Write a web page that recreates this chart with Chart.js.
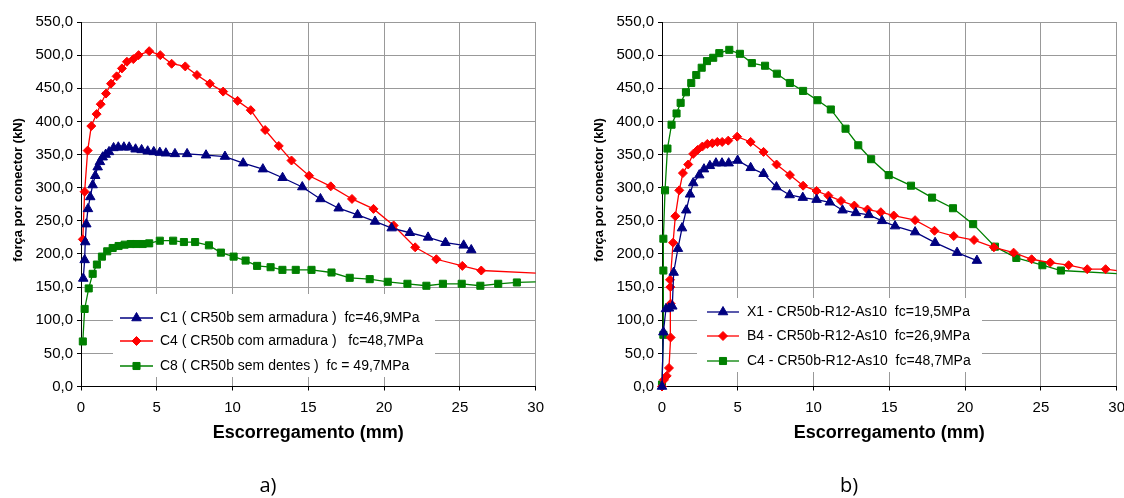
<!DOCTYPE html>
<html>
<head>
<meta charset="utf-8">
<script src="https://cdn.jsdelivr.net/npm/chart.js@4.4.1/dist/chart.umd.min.js"></script>
<style>
  html, body { margin: 0; padding: 0; background: #fff; }
  body { width: 1124px; height: 498px; position: relative; overflow: hidden; }
  canvas { position: absolute; top: 0; }
  #chartA { left: 0; }
  #chartB { left: 581px; }
</style>
</head>
<body>
<canvas id="chartA" width="552" height="498"></canvas>
<canvas id="chartB" width="552" height="498"></canvas>
<script>
// grafico a)
const slipC1 = [0.15, 0.24, 0.28, 0.35, 0.46, 0.61, 0.77, 0.94, 1.1, 1.25, 1.43, 1.63, 1.85, 2.15, 2.46, 2.83, 3.18, 3.6, 4.0, 4.4, 4.8, 5.2, 5.6, 6.2, 7.0, 8.25, 9.5, 10.7, 12.0, 13.3, 14.6, 15.8, 17.0, 18.25, 19.4, 20.5, 21.7, 22.9, 24.05, 25.25, 25.75];
const forceC1 = [163, 191, 218, 245, 268, 286, 304, 318, 331, 339, 346, 350, 354, 360, 361, 361, 361, 358, 357, 355, 354, 353, 352, 351, 351, 349, 347, 337, 328, 315, 301, 283, 269, 259, 249, 239, 232, 225, 217, 213, 206];

const slipC4a = [0.12, 0.24, 0.44, 0.68, 1.03, 1.3, 1.65, 1.98, 2.35, 2.7, 3.03, 3.45, 3.8, 4.5, 5.23, 5.98, 6.88, 7.65, 8.5, 9.38, 10.33, 11.2, 12.15, 13.05, 13.89, 15.05, 16.48, 17.88, 19.3, 20.63, 22.05, 23.45, 25.16, 26.41, 32];
const forceC4a = [222, 294, 356, 393, 411, 426, 442, 457, 468, 480, 490, 494, 500, 506, 500, 487, 483, 470, 457, 445, 431, 417, 387, 363, 341, 318, 302, 283, 268, 243, 210, 192, 182, 175, 169];

const slipC8 = [0.12, 0.24, 0.51, 0.77, 1.05, 1.38, 1.73, 2.09, 2.48, 2.88, 3.28, 3.63, 4.07, 4.5, 5.2, 6.08, 6.79, 7.53, 8.44, 9.23, 10.07, 10.86, 11.62, 12.51, 13.29, 14.17, 15.21, 16.53, 17.73, 19.05, 20.24, 21.54, 22.79, 23.88, 25.12, 26.35, 27.53, 28.76, 32];
const forceC8 = [68, 117, 148, 170, 184, 196, 204, 209, 212, 214, 215, 215, 215, 216, 220, 220, 218, 218, 213, 202, 196, 190, 182, 180, 176, 176, 176, 172, 164, 162, 158, 155, 152, 155, 155, 152, 155, 157, 159];

// grafico b)
const slipX1 = [0, 0.09, 0.26, 0.46, 0.68, 0.77, 1.05, 1.32, 1.6, 1.85, 2.06, 2.46, 2.77, 3.16, 3.56, 3.96, 4.4, 4.99, 5.85, 6.7, 7.55, 8.42, 9.29, 10.2, 11.07, 11.91, 12.79, 13.65, 14.52, 15.38, 16.7, 18.02, 19.47, 20.78];
const forceX1 = [0, 82, 117, 118, 121, 172, 208, 239, 266, 290, 307, 319, 328, 333, 337, 337, 337, 341, 330, 321, 301, 289, 285, 282, 278, 266, 262, 259, 250, 242, 233, 217, 202, 190];

const slipB4 = [0, 0.13, 0.31, 0.46, 0.57, 0.57, 0.55, 0.53, 0.73, 0.88, 1.14, 1.38, 1.73, 2.06, 2.35, 2.66, 2.99, 3.32, 3.65, 3.97, 4.37, 4.96, 5.85, 6.7, 7.56, 8.44, 9.31, 10.2, 10.98, 11.81, 12.69, 13.56, 14.44, 15.29, 16.7, 17.98, 19.25, 20.59, 21.9, 23.2, 24.39, 25.62, 26.83, 28.06, 29.27, 31];
const forceB4 = [0, 10, 16, 28, 74, 125, 150, 161, 217, 257, 296, 322, 335, 351, 357, 362, 366, 367, 369, 369, 371, 377, 369, 354, 335, 319, 303, 295, 288, 280, 273, 267, 263, 258, 251, 235, 227, 221, 210, 202, 192, 187, 183, 177, 177, 172];

const slipC4b = [0, 0.09, 0.09, 0.09, 0.2, 0.36, 0.63, 0.96, 1.23, 1.58, 1.93, 2.26, 2.62, 2.97, 3.38, 3.78, 4.44, 5.14, 5.93, 6.8, 7.58, 8.44, 9.31, 10.26, 11.14, 12.11, 12.95, 13.8, 14.96, 16.43, 17.82, 19.2, 20.53, 21.97, 23.38, 25.1, 26.32, 31];
const forceC4b = [3, 78, 175, 223, 296, 359, 395, 412, 428, 444, 458, 470, 481, 491, 496, 503, 508, 502, 488, 484, 472, 458, 446, 432, 418, 389, 364, 343, 319, 303, 285, 269, 245, 211, 194, 183, 175, 169];

const xMax = 30, xStep = 5;
const yMax = 550, yStep = 50;

Chart.defaults.font.family = '"Liberation Sans", Arial, sans-serif';
Chart.defaults.color = '#000';

const pts = (xs, ys) => xs.map((x, i) => ({ x: x, y: ys[i] }));

const raio = { triangle: 5.5, rectRot: 4.5, rect: 5 };

function serie(label, xs, ys, cor, estilo) {
  return {
    label: label,
    data: pts(xs, ys),
    showLine: true,
    borderColor: cor,
    backgroundColor: cor,
    borderWidth: 1.3,
    pointStyle: estilo,
    pointRadius: raio[estilo],
    pointBorderWidth: 1,
    pointBackgroundColor: cor,
    pointBorderColor: cor,
    clip: { left: 8, top: 0, right: 0, bottom: 8 }
  };
}

// titulo vertical do eixo y
const tituloY = {
  id: 'tituloY',
  afterDraw(chart, args, o) {
    const ctx = chart.ctx;
    ctx.save();
    ctx.translate(o.x, o.y);
    ctx.rotate(-Math.PI / 2);
    ctx.font = 'bold 13px "Liberation Sans", Arial, sans-serif';
    ctx.fillStyle = '#000';
    ctx.textAlign = 'center';
    ctx.textBaseline = 'middle';
    ctx.fillText(o.text, 0, 0);
    ctx.restore();
  }
};

// legenda estilo excel (linha + marcador)
const caixaLegenda = {
  id: 'caixaLegenda',
  afterDatasetsDraw(chart, args, o) {
    const ctx = chart.ctx;
    ctx.save();
    ctx.fillStyle = '#fff';
    ctx.fillRect(o.box[0], o.box[1], o.box[2], o.box[3]);
    ctx.font = '14px "Liberation Sans", Arial, sans-serif';
    ctx.textBaseline = 'middle';
    chart.data.datasets.forEach((ds, i) => {
      const y = o.rows[i];
      ctx.strokeStyle = ds.borderColor;
      ctx.lineWidth = ds.borderWidth;
      ctx.beginPath();
      ctx.moveTo(o.line[0], y);
      ctx.lineTo(o.line[1], y);
      ctx.stroke();
      ctx.fillStyle = ds.borderColor;
      ctx.lineWidth = 1;
      Chart.helpers.drawPoint(ctx, { pointStyle: ds.pointStyle, radius: ds.pointRadius, borderWidth: 1, rotation: 0 }, (o.line[0] + o.line[1]) / 2, y);
      ctx.fillStyle = '#000';
      ctx.fillText(ds.label, o.textX, y);
    });
    ctx.restore();
  }
};

function grafico(id, datasets, letra, legenda) {
  return new Chart(document.getElementById(id), {
    type: 'scatter',
    data: { datasets: datasets },
    options: {
      responsive: false,
      animation: false,
      devicePixelRatio: 1,
      layout: { padding: { top: 22, right: 16, left: 0, bottom: 0 } },
      scales: {
        x: {
          type: 'linear', min: 0, max: xMax,
          afterFit: s => { s.height = 87.5; },
          ticks: { stepSize: xStep, font: { size: 15 }, color: '#000', padding: 8 },
          grid: { color: '#999', tickColor: '#000', tickLength: 4, lineWidth: 1 },
          border: { color: '#000', width: 1 },
          title: { display: true, text: 'Escorregamento (mm)', color: '#000', font: { size: 18, weight: 'bold' }, padding: { top: 0, bottom: 30 } }
        },
        y: {
          type: 'linear', min: 0, max: yMax,
          afterFit: s => { s.width = 81; },
          ticks: { stepSize: yStep, font: { size: 15 }, color: '#000', padding: 4, callback: v => v.toFixed(1).replace('.', ',') },
          grid: { color: '#999', tickColor: '#000', tickLength: 4, lineWidth: 1 },
          border: { color: '#000', width: 1 }
        }
      },
      plugins: {
        legend: { display: false },
        tooltip: { enabled: false },
        title: { display: true, position: 'bottom', text: letra, color: '#000', font: { size: 20, weight: 'normal', family: '"Open Sans", sans-serif' }, padding: { top: 0, bottom: 0 } },
        tituloY: { text: 'força por conector (kN)', x: 18, y: 190 },
        caixaLegenda: legenda
      }
    },
    plugins: [tituloY, caixaLegenda]
  });
}

grafico('chartA', [
  serie('C1 ( CR50b sem armadura )  fc=46,9MPa', slipC1, forceC1, '#000080', 'triangle'),
  serie('C4 ( CR50b com armadura )   fc=48,7MPa', slipC4a, forceC4a, '#ff0000', 'rectRot'),
  serie('C8 ( CR50b sem dentes )  fc = 49,7MPa', slipC8, forceC8, '#008000', 'rect')
], 'a)', { box: [113, 294, 322, 83], line: [120, 153], textX: 160, rows: [318, 341, 366] });

grafico('chartB', [
  serie('X1 - CR50b-R12-As10  fc=19,5MPa', slipX1, forceX1, '#000080', 'triangle'),
  serie('B4 - CR50b-R12-As10  fc=26,9MPa', slipB4, forceB4, '#ff0000', 'rectRot'),
  serie('C4 - CR50b-R12-As10  fc=48,7MPa', slipC4b, forceC4b, '#008000', 'rect')
], 'b)', { box: [116, 298, 285, 74], line: [126, 158], textX: 166, rows: [312, 336, 361] });
</script>
</body>
</html>
